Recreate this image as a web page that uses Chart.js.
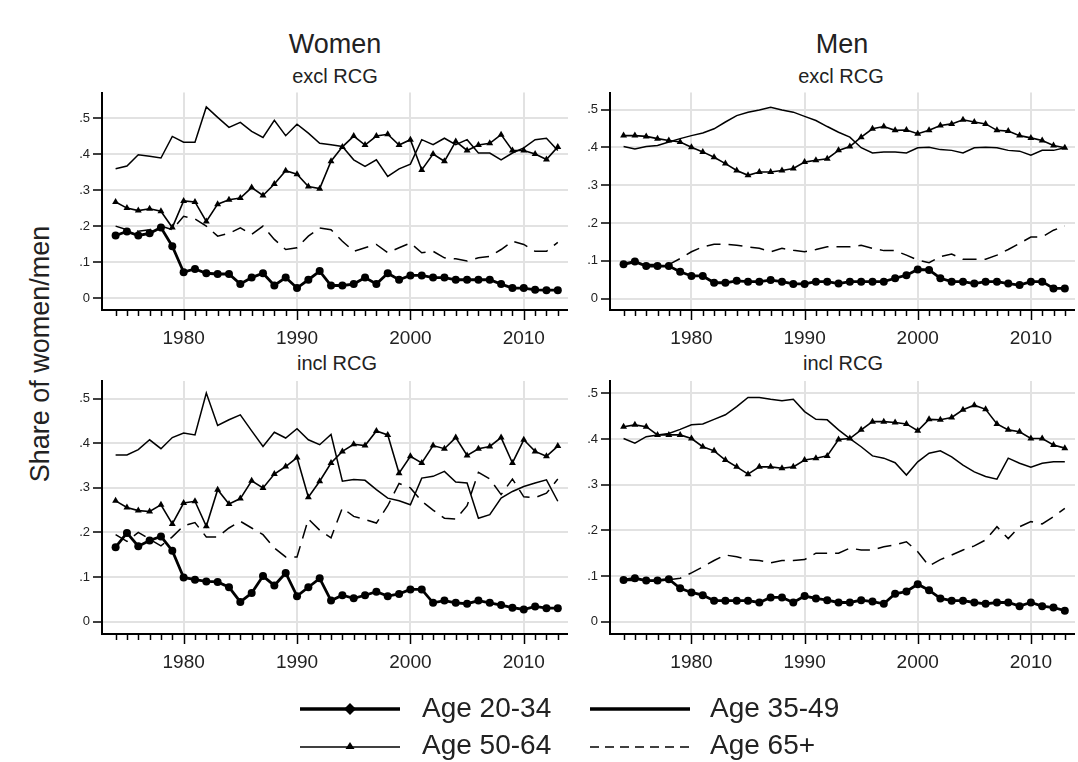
<!DOCTYPE html>
<html>
<head>
<meta charset="utf-8">
<title>Share of women/men by age group</title>
<script src="https://cdn.jsdelivr.net/npm/chart.js@4.4.1/dist/chart.umd.min.js"></script>
<style>
  body { margin: 0; background: #fff; }
  #page { position: relative; width: 1078px; height: 762px; overflow: hidden; font-family: "Liberation Sans", Arial, sans-serif; color: #222; }
  canvas { position: absolute; }
  .t { position: absolute; white-space: nowrap; line-height: 1; transform: translateX(-50%); }
  .big { font-size: 27px; }
  .sub { font-size: 20px; }
  .ytitle { position: absolute; font-size: 27px; line-height: 1; white-space: nowrap; left: 40px; top: 354px; transform: translate(-50%, -50%) rotate(-90deg); }
  .leg { position: absolute; font-size: 28px; line-height: 1; white-space: nowrap; }
  svg { position: absolute; left: 0; top: 0; }
</style>
</head>
<body>
<div id="page">
  <div class="t big" style="left:335px;top:31px">Women</div>
  <div class="t big" style="left:842px;top:31px">Men</div>
  <div class="t sub" style="left:335px;top:66px">excl RCG</div>
  <div class="t sub" style="left:841px;top:66px">excl RCG</div>
  <div class="t sub" style="left:337px;top:353px">incl RCG</div>
  <div class="t sub" style="left:843px;top:353px">incl RCG</div>
  <div class="ytitle">Share of women/men</div>

  <canvas id="women-excl" width="526" height="262" style="left:42px;top:88px"></canvas>
  <canvas id="men-excl" width="525" height="262" style="left:550px;top:88px"></canvas>
  <canvas id="women-incl" width="526" height="298" style="left:42px;top:376px"></canvas>
  <canvas id="men-incl" width="525" height="298" style="left:550px;top:376px"></canvas>

  <!-- legend samples -->
  <svg width="1078" height="762">
    <line x1="300" y1="709" x2="400" y2="709" stroke="#000" stroke-width="3.5"/>
    <polygon points="350,703 356,709 350,715 344,709" fill="#000"/>
    <line x1="590" y1="709" x2="690" y2="709" stroke="#000" stroke-width="3.5"/>
    <line x1="300" y1="747" x2="400" y2="747" stroke="#000" stroke-width="1.6"/>
    <polygon points="350,742 354.5,749 345.5,749" fill="#000"/>
    <line x1="590" y1="747" x2="690" y2="747" stroke="#000" stroke-width="1.6" stroke-dasharray="9 6"/>
  </svg>
  <div class="leg" id="leg0" style="left:422px;top:694px"></div>
  <div class="leg" id="leg1" style="left:710px;top:694px"></div>
  <div class="leg" id="leg2" style="left:422px;top:731px"></div>
  <div class="leg" id="leg3" style="left:710px;top:731px"></div>
</div>

<script>
// Years on the x axis
let years = [1974, 1975, 1976, 1977, 1978, 1979, 1980, 1981, 1982, 1983,
             1984, 1985, 1986, 1987, 1988, 1989, 1990, 1991, 1992, 1993,
             1994, 1995, 1996, 1997, 1998, 1999, 2000, 2001, 2002, 2003,
             2004, 2005, 2006, 2007, 2008, 2009, 2010, 2011, 2012, 2013]

// Tick labels
let xTickValues = [1980, 1990, 2000, 2010]
let xTickLabels = ['1980', '1990', '2000', '2010']
let yTickValues = [0, 0.1, 0.2, 0.3, 0.4, 0.5]
let yTickLabels = ['0', '.1', '.2', '.3', '.4', '.5']

let seriesNames = ['Age 20-34', 'Age 35-49', 'Age 50-64', 'Age 65+']

// Women, excl RCG
let womenExcl2034 = [.174, .185, .174, .18, .196, .144, .072, .081, .069, .067,
                     .067, .039, .057, .069, .035, .057, .028, .051, .075, .035,
                     .035, .039, .057, .039, .069, .051, .063, .063, .057, .057,
                     .051, .051, .051, .051, .039, .028, .028, .023, .022, .022]
let womenExcl3549 = [.359, .367, .398, .394, .389, .449, .433, .433, .531, .502,
                     .474, .488, .463, .446, .494, .451, .483, .458, .43, .426,
                     .421, .384, .366, .384, .338, .359, .372, .44, .426, .444,
                     .426, .44, .403, .403, .384, .403, .417, .44, .444, .41]
let womenExcl5064 = [.267, .25, .243, .248, .241, .196, .27, .267, .213, .261,
                     .273, .278, .307, .285, .317, .354, .344, .31, .304, .38,
                     .42, .45, .425, .45, .455, .425, .44, .356, .40, .38,
                     .435, .41, .425, .43, .454, .41, .41, .40, .385, .42]
let womenExcl65 = [.20, .19, .186, .19, .20, .19, .227, .22, .20, .172,
                   .18, .195, .177, .20, .163, .135, .14, .172, .195, .19,
                   .158, .13, .14, .149, .126, .14, .153, .126, .13, .112,
                   .109, .103, .112, .116, .135, .158, .149, .13, .13, .155]

// Men, excl RCG
let menExcl2034 = [.091, .098, .086, .086, .086, .071, .06, .06, .042, .042,
                   .047, .045, .045, .049, .045, .039, .039, .045, .045, .04,
                   .045, .045, .045, .045, .054, .062, .077, .076, .054, .045,
                   .045, .04, .045, .045, .04, .036, .045, .045, .027, .027]
let menExcl3549 = [.402, .396, .402, .405, .414, .423, .431, .438, .449, .467,
                   .484, .493, .499, .506, .499, .493, .482, .471, .455, .44,
                   .427, .399, .385, .388, .388, .385, .399, .40, .394, .392,
                   .385, .399, .40, .399, .392, .39, .379, .392, .392, .399]
let menExcl5064 = [.431, .431, .429, .423, .418, .414, .40, .388, .374, .357,
                   .339, .326, .335, .335, .339, .344, .361, .366, .37, .392,
                   .402, .427, .449, .455, .445, .446, .436, .445, .458, .462,
                   .473, .467, .462, .445, .443, .431, .425, .418, .405, .399]
let menExcl65 = [.09, .095, .09, .09, .09, .106, .124, .137, .144, .144,
                 .141, .137, .133, .124, .133, .128, .124, .13, .137, .137,
                 .137, .141, .133, .127, .127, .115, .102, .095, .111, .118,
                 .104, .104, .104, .115, .13, .146, .163, .163, .181, .192]

// Women, incl RCG
let womenIncl2034 = [.167, .199, .169, .182, .191, .159, .099, .094, .09, .089,
                     .077, .044, .064, .102, .081, .109, .057, .077, .097, .047,
                     .059, .052, .059, .067, .057, .062, .072, .072, .042, .047,
                     .042, .04, .047, .042, .037, .031, .027, .034, .03, .03]
let womenIncl3549 = [.374, .374, .386, .408, .388, .413, .423, .419, .513, .44,
                     .453, .464, .428, .393, .425, .412, .433, .408, .397, .42,
                     .315, .319, .317, .296, .277, .271, .262, .322, .326, .337,
                     .313, .311, .232, .24, .277, .292, .303, .311, .318, .27]
let womenIncl5064 = [.271, .256, .249, .247, .262, .219, .266, .27, .214, .296,
                     .264, .276, .316, .30, .331, .348, .368, .279, .315, .356,
                     .382, .398, .395, .428, .419, .333, .371, .356, .395, .388,
                     .413, .373, .388, .393, .413, .356, .408, .382, .371, .394]
let womenIncl65 = [.195, .18, .20, .185, .17, .19, .215, .222, .19, .19,
                   .21, .225, .21, .195, .165, .145, .145, .23, .205, .188,
                   .255, .236, .229, .221, .26, .31, .30, .27, .25, .232,
                   .23, .26, .335, .32, .285, .32, .28, .278, .288, .32]

// Men, incl RCG
let menIncl2034 = [.091, .095, .09, .09, .093, .073, .064, .058, .046, .046,
                   .046, .046, .042, .053, .053, .042, .056, .051, .047, .042,
                   .042, .047, .044, .039, .061, .066, .082, .069, .051, .046,
                   .046, .042, .039, .042, .042, .034, .042, .034, .031, .024]
let menIncl3549 = [.401, .391, .405, .409, .412, .421, .431, .433, .443, .453,
                   .471, .491, .491, .487, .484, .487, .46, .443, .442, .42,
                   .401, .383, .363, .358, .348, .321, .35, .369, .374, .361,
                   .343, .328, .318, .312, .358, .347, .338, .347, .35, .35]
let menIncl5064 = [.427, .431, .427, .409, .409, .409, .401, .383, .374, .354,
                   .339, .323, .339, .339, .336, .339, .354, .358, .363, .399,
                   .401, .42, .438, .438, .436, .433, .418, .443, .442, .447,
                   .464, .474, .465, .433, .42, .416, .401, .401, .387, .38]
let menIncl65 = [.09, .09, .09, .09, .092, .095, .107, .12, .134, .146,
                 .142, .136, .134, .129, .134, .134, .136, .15, .15, .15,
                 .161, .157, .157, .164, .168, .175, .153, .122, .136, .146,
                 .157, .166, .179, .208, .182, .208, .219, .214, .23, .248]

// Line and marker look of each age group
let seriesStyles = [
    { borderWidth: 2.8, pointStyle: 'circle', pointRadius: 4, borderDash: [] },
    { borderWidth: 1.5, pointStyle: 'circle', pointRadius: 0, borderDash: [] },
    { borderWidth: 1.6, pointStyle: 'triangle', pointRadius: 4, borderDash: [] },
    { borderWidth: 1.5, pointStyle: 'circle', pointRadius: 0, borderDash: [14, 8] }
]

let gridColor = '#e2e2e2'
let textColor = '#222'

// Stata style yearly tick marks under the x axis, longer at the decades
let yearTicks = {
    id: 'yearTicks',
    afterDraw: function(chart) {
        let xScale = chart.scales.x
        let ctx = chart.ctx
        let bottom = chart.chartArea.bottom
        ctx.save()
        ctx.strokeStyle = '#000'
        ctx.lineWidth = 1.5
        years.forEach(function(year) {
            let px = Math.round(xScale.getPixelForValue(year)) + 0.5
            let len = year % 10 === 0 ? 10 : 6
            ctx.beginPath()
            ctx.moveTo(px, bottom + 1)
            ctx.lineTo(px, bottom + len)
            ctx.stroke()
        })
        ctx.restore()
    }
}

// no extra room for half labels, the plot box is set by the canvas and padding
function noScalePadding(scale) {
    scale.paddingTop = 0
    scale.paddingBottom = 0
    scale.paddingLeft = 0
    scale.paddingRight = 0
}

function makeChart(id, seriesList, yMin, yMax, topPad) {
    let context = document.querySelector('#' + id).getContext('2d')

    let datasets = seriesList.map(function(values, i) {
        let style = seriesStyles[i]
        return {
            label: seriesNames[i],
            data: values.map(function(v, j) { return { x: years[j], y: v } }),
            borderColor: '#000',
            backgroundColor: '#000',
            borderWidth: style.borderWidth,
            borderDash: style.borderDash,
            pointStyle: style.pointStyle,
            pointRadius: style.pointRadius,
            pointBorderWidth: 0,
            pointBackgroundColor: '#000',
            tension: 0
        }
    })

    return new Chart(context, {
        type: 'line',
        data: { datasets: datasets },
        options: {
            responsive: false,
            animation: false,
            events: [],
            layout: { padding: { top: topPad, left: 0, right: 0, bottom: 0 }, autoPadding: false },
            plugins: { legend: { display: false }, tooltip: { enabled: false } },
            scales: {
                x: {
                    type: 'linear',
                    min: 1972.8,
                    max: 2013.9,
                    afterBuildTicks: function(scale) {
                        scale.ticks = xTickValues.map(function(v) { return { value: v } })
                    },
                    afterFit: function(scale) {
                        scale.height = 40
                        noScalePadding(scale)
                    },
                    ticks: {
                        callback: function(v) { return xTickLabels[xTickValues.indexOf(v)] },
                        maxRotation: 0,
                        autoSkip: false,
                        padding: 17,
                        color: textColor,
                        font: { family: 'Liberation Sans', size: 19 }
                    },
                    grid: { color: gridColor, lineWidth: 2, drawTicks: false },
                    border: { display: true, color: '#000', width: 2 }
                },
                y: {
                    min: yMin,
                    max: yMax,
                    afterBuildTicks: function(scale) {
                        scale.ticks = yTickValues.map(function(v) { return { value: v } })
                    },
                    afterFit: function(scale) {
                        scale.width = 60
                        noScalePadding(scale)
                    },
                    ticks: {
                        callback: function(v) { return yTickLabels[yTickValues.indexOf(v)] },
                        padding: 3,
                        color: textColor,
                        font: { family: 'Liberation Sans', size: 13 }
                    },
                    grid: { color: gridColor, lineWidth: 2, tickLength: 9, tickColor: '#000', tickWidth: 1.5 },
                    border: { display: true, color: '#000', width: 2 }
                }
            }
        },
        plugins: [yearTicks]
    })
}

makeChart('women-excl', [womenExcl2034, womenExcl3549, womenExcl5064, womenExcl65], -0.033, 0.571, 4.5)
makeChart('men-excl', [menExcl2034, menExcl3549, menExcl5064, menExcl65], -0.030, 0.545, 4.5)
makeChart('women-incl', [womenIncl2034, womenIncl3549, womenIncl5064, womenIncl65], -0.028, 0.540, 5)
makeChart('men-incl', [menIncl2034, menIncl3549, menIncl5064, menIncl65], -0.027, 0.527, 5)

// Shared legend text
seriesNames.forEach(function(name, i) {
    document.querySelector('#leg' + i).textContent = name
})
</script>
</body>
</html>
